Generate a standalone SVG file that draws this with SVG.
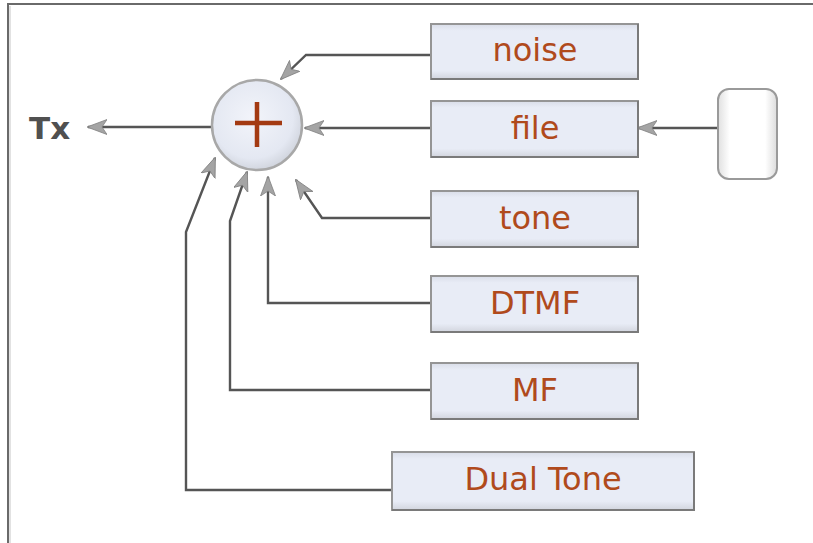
<svg xmlns="http://www.w3.org/2000/svg" width="813" height="543" viewBox="0 0 813 543">
  <defs>
    <linearGradient id="boxg" x1="0" y1="0" x2="0" y2="1">
      <stop offset="0" stop-color="#d9dde8"/>
      <stop offset="0.12" stop-color="#e8ecf6"/>
      <stop offset="0.85" stop-color="#e8ecf6"/>
      <stop offset="1" stop-color="#d2d5de"/>
    </linearGradient>
    <radialGradient id="circg" cx="0.45" cy="0.42" r="0.6">
      <stop offset="0" stop-color="#f2f4fa"/>
      <stop offset="0.75" stop-color="#e4e8f2"/>
      <stop offset="1" stop-color="#cfd3dc"/>
    </radialGradient>
    <linearGradient id="termg" x1="0" y1="0" x2="1" y2="0">
      <stop offset="0" stop-color="#e0e0e0"/>
      <stop offset="0.2" stop-color="#ffffff"/>
      <stop offset="0.8" stop-color="#ffffff"/>
      <stop offset="1" stop-color="#dcdcdc"/>
    </linearGradient>
    <marker id="arr" viewBox="0 0 20 16" refX="19" refY="8" markerWidth="20" markerHeight="16" markerUnits="userSpaceOnUse" orient="auto">
      <path d="M0,0.5 L20,8 L0,15.5 L5,8 Z" fill="#a4a4a4" stroke="#808080" stroke-width="0.8"/>
    </marker>
  </defs>
  <style>
    .box { fill: url(#boxg); stroke: #959595; stroke-width: 2; }
    .sh { fill: none; stroke: #7a7a7a; stroke-width: 2; }
    .lbl { font-family: "DejaVu Sans", "Liberation Sans", sans-serif; font-size: 32px; fill: #b04a1c; text-anchor: middle; }
    .con { fill: none; stroke: #555; stroke-width: 2.4; }
  </style>
  <rect width="813" height="543" fill="#ffffff"/>
  <path d="M8,543 L8,4 L813,4" fill="none" stroke="#6a6a6a" stroke-width="2"/>
  <line x1="10" y1="6" x2="10" y2="543" stroke="#d8d8d8" stroke-width="1.5"/>

  <g id="connectors">
    <path class="con" d="M212,127 L88,127" marker-end="url(#arr)"/>
    <path class="con" d="M430,55 L306,55 L281,79" marker-end="url(#arr)"/>
    <path class="con" d="M430,128 L305,128" marker-end="url(#arr)"/>
    <path class="con" d="M430,218 L322,218 L296,180" marker-end="url(#arr)"/>
    <path class="con" d="M430,303 L268,303 L268,177" marker-end="url(#arr)"/>
    <path class="con" d="M430,390 L230,390 L230,221 L247,172" marker-end="url(#arr)"/>
    <path class="con" d="M392,490 L186,490 L186,232 L215,158" marker-end="url(#arr)"/>
    <path class="con" d="M717,128 L638,128" marker-end="url(#arr)"/>
  </g>

  <g id="tx">
    <text x="29" y="139" font-family="DejaVu Sans, Liberation Sans, sans-serif" font-size="31" font-weight="bold" fill="#505050">Tx</text>
  </g>

  <g id="sum">
    <circle cx="257" cy="125" r="45" fill="url(#circg)" stroke="#a8a8a8" stroke-width="2.5"/>
    <path d="M235,123 L282,123 M257,102 L257,147" stroke="#a33a12" stroke-width="4.5" fill="none"/>
  </g>

  <g id="noise">
    <rect class="box" x="431" y="24" width="207" height="55"/>
    <path class="sh" d="M431,79 L638,79 L638,24"/>
    <text class="lbl" x="535" y="61">noise</text>
  </g>
  <g id="file">
    <rect class="box" x="431" y="101" width="207" height="56"/>
    <path class="sh" d="M431,157 L638,157 L638,101"/>
    <text class="lbl" x="535" y="139">file</text>
  </g>
  <g id="tone">
    <rect class="box" x="431" y="191" width="207" height="56"/>
    <path class="sh" d="M431,247 L638,247 L638,191"/>
    <text class="lbl" x="535" y="229">tone</text>
  </g>
  <g id="dtmf">
    <rect class="box" x="431" y="276" width="207" height="56"/>
    <path class="sh" d="M431,332 L638,332 L638,276"/>
    <text class="lbl" x="535" y="314">DTMF</text>
  </g>
  <g id="mf">
    <rect class="box" x="431" y="363" width="207" height="56"/>
    <path class="sh" d="M431,419 L638,419 L638,363"/>
    <text class="lbl" x="535" y="401">MF</text>
  </g>
  <g id="dualtone">
    <rect class="box" x="392" y="452" width="302" height="58"/>
    <path class="sh" d="M392,510 L694,510 L694,452"/>
    <text class="lbl" x="543" y="490">Dual Tone</text>
  </g>
  <g id="source">
    <rect x="718" y="89" width="59" height="90" rx="11" ry="11" fill="url(#termg)" stroke="#9a9a9a" stroke-width="2"/>
  </g>
</svg>
